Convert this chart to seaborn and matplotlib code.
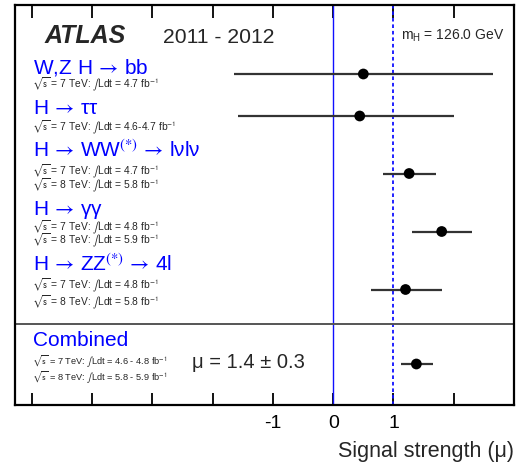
import matplotlib
matplotlib.use('Agg')
import matplotlib.pyplot as plt
import seaborn as sns
import pandas as pd

# valores (mH = 126.0 GeV)
flecha = ' $\\!\\rightarrow\\!$ '
canales = ['W,Z H' + flecha + 'bb', 'H' + flecha + 'ττ',
           'H' + flecha + 'WW$^{(*)}$' + flecha + 'lνlν', 'H' + flecha + 'γγ',
           'H' + flecha + 'ZZ$^{(*)}$' + flecha + '4l', 'Combined']
mu = [0.50, 0.44, 1.26, 1.80, 1.20, 1.38]
mu_lo = [-1.65, -1.58, 0.83, 1.30, 0.63, 1.12]
mu_hi = [2.65, 2.00, 1.71, 2.30, 1.80, 1.65]
lumi_7 = ['4.7', '4.6-4.7', '4.7', '4.8', '4.8', '4.6 - 4.8']
lumi_8 = [None, None, '5.8', '5.9', '5.8', '5.8 - 5.9']
xticks = [-5, -4, -3, -2, -1, 0, 1, 2]
xticklabels = ['', '', '', '', '-1', '0', '1', '']

df = pd.DataFrame({'canal': canales, 'mu': mu, 'lo': mu_lo, 'hi': mu_hi})

# posiciones verticales (pixeles de la figura)
df['y'] = [74, 116, 173.5, 231.5, 289.5, 364]
y_titulo = [74, 114, 157, 215, 271, 346.5]
y_l7 = [87.5, 130, 174.5, 230, 288.5, 365]
y_l8 = [None, None, 188, 243.5, 305, 381]

sns.set_theme(style='ticks')
plt.rcParams['font.family'] = ['Liberation Sans', 'DejaVu Sans']
plt.rcParams['mathtext.fontset'] = 'custom'
plt.rcParams['mathtext.rm'] = 'Liberation Sans'
plt.rcParams['mathtext.it'] = 'Liberation Sans'
plt.rcParams['mathtext.bf'] = 'Liberation Sans:bold'

W, H = 524, 468
fig = plt.figure(figsize=(W / 100, H / 100), dpi=100)
ax = fig.add_axes([15 / W, (H - 405) / H, 499 / W, 400 / H])


def px(x, y):
    return x / W, 1 - y / H


ax.set_xlim(-5.28, 3.0)
ax.set_ylim(405, 5)

ax.axvline(0, color='#1010ff', lw=1.0, zorder=1)
ax.axvline(1, color='#1010ff', lw=1.3, ls=(0, (2, 1.6)), zorder=1)
ax.axhline(323.5, color='#555555', lw=1.4, zorder=1)

ax.hlines(df['y'], df['lo'], df['hi'], color='#333333', lw=1.6, zorder=3)
sns.scatterplot(data=df, x='mu', y='y', color='black', s=60, edgecolor='none',
                zorder=5, ax=ax, legend=False)

ax.set_xticks(xticks)
ax.set_xticklabels(xticklabels, fontsize=14)
ax.set_yticks([])
ax.tick_params(axis='x', direction='in', top=True, length=9, width=1.3,
               pad=7, color='black', labelcolor='black')
for s in ax.spines.values():
    s.set_linewidth(1.6)
    s.set_color('black')
    s.set_visible(True)
ax.set_xlabel('Signal strength (μ)', loc='right', fontsize=15.5, labelpad=7)
ax.set_ylabel('')

# textos
fig.text(*px(45, 43), 'ATLAS', fontsize=18, fontweight='bold', fontstyle='italic')
fig.text(*px(163, 43), '2011 - 2012', fontsize=15.2)
fig.text(*px(401, 40), 'm$_{\\mathrm{H}}$ = 126.0 GeV', fontsize=10)

for i, c in enumerate(canales):
    fig.text(*px(33, y_titulo[i]), c, fontsize=15, color='#0000ff',
             math_fontfamily='stixsans')
    fs = 7.4 if i < 5 else 6.7
    fig.text(*px(32, y_l7[i]),
             '$\\sqrt{\\mathrm{s}}$ = 7 TeV: $\\int$Ldt = %s fb$^{-1}$' % lumi_7[i],
             fontsize=fs, math_fontfamily='stixsans')
    if lumi_8[i] is not None:
        fig.text(*px(32, y_l8[i]),
                 '$\\sqrt{\\mathrm{s}}$ = 8 TeV: $\\int$Ldt = %s fb$^{-1}$' % lumi_8[i],
                 fontsize=fs, math_fontfamily='stixsans')

fig.text(*px(192, 368), 'μ = 1.4 ± 0.3', fontsize=14.5)

fig.savefig('out.png', dpi=100)
